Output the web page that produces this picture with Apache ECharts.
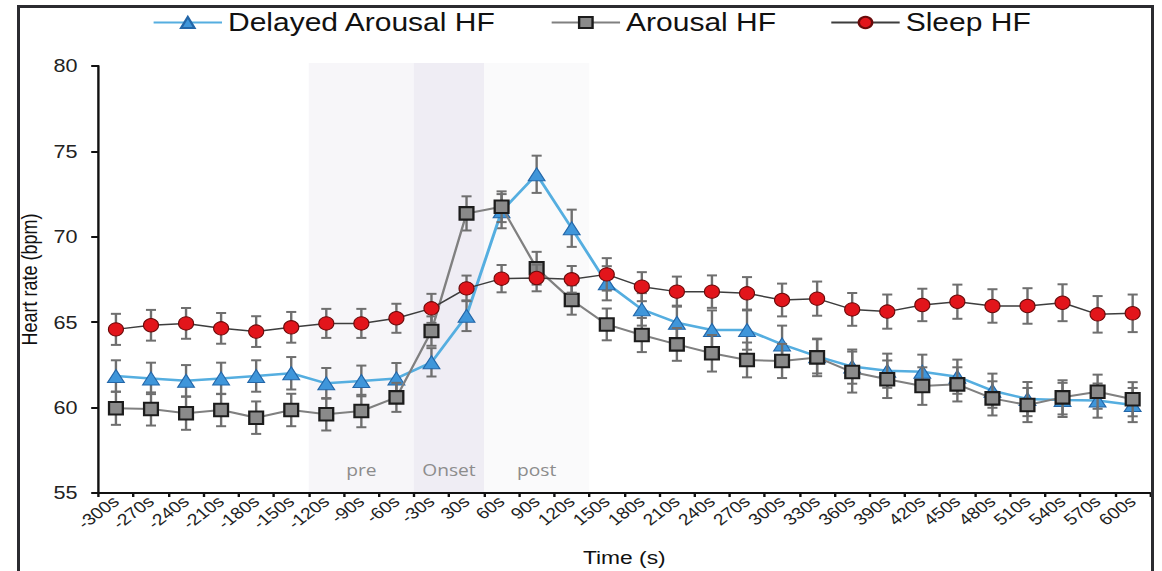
<!DOCTYPE html>
<html>
<head>
<meta charset="utf-8">
<script src="https://cdn.jsdelivr.net/npm/echarts@6/dist/echarts.min.js"></script>
<style>
  html, body { margin: 0; padding: 0; background: #ffffff; width: 1162px; height: 571px; overflow: hidden; }
  #chart { position: absolute; left: 0; top: 0; width: 968px; height: 571px; transform: scaleX(1.2); transform-origin: 0 0; }
  #frame { position: absolute; left: 17px; top: 5px; width: 1131px; height: 600px; border: 3px solid #2b2b30; pointer-events: none; }
</style>
</head>
<body>
<div id="chart"></div>
<div id="frame"></div>
<script>
// Time bins around arousal onset
const timeLabels = ['-300s','-270s','-240s','-210s','-180s','-150s','-120s','-90s','-60s','-30s',
  '30s','60s','90s','120s','150s','180s','210s','240s','270s','300s',
  '330s','360s','390s','420s','450s','480s','510s','540s','570s','600s'];

// Mean heart rate (bpm) per bin
const delayedArousalHF = [61.85, 61.71, 61.57, 61.71, 61.85, 62.01, 61.42, 61.56, 61.71, 62.65,
  65.38, 71.5, 73.66, 70.5, 67.28, 65.75, 64.97, 64.54, 64.54, 63.7,
  63.0, 62.4, 62.16, 62.1, 61.81, 60.99, 60.5, 60.45, 60.41, 60.15];
const arousalHF = [59.96, 59.92, 59.67, 59.86, 59.41, 59.86, 59.61, 59.8, 60.6, 64.48,
  71.37, 71.76, 68.16, 66.3, 64.87, 64.25, 63.7, 63.18, 62.79, 62.73,
  62.94, 62.08, 61.66, 61.26, 61.36, 60.54, 60.15, 60.6, 60.93, 60.49];
const sleepHF = [64.58, 64.82, 64.93, 64.64, 64.45, 64.7, 64.93, 64.93, 65.23, 65.81,
  66.98, 67.55, 67.59, 67.51, 67.8, 67.08, 66.79, 66.79, 66.69, 66.3,
  66.38, 65.75, 65.62, 66.01, 66.2, 65.95, 65.95, 66.14, 65.46, 65.52];

// Standard error (bpm) per bin
const delayedArousalErr = [0.92, 0.92, 0.92, 0.92, 0.92, 0.95, 0.9, 0.9, 0.9, 0.83,
  0.9, 1.0, 1.09, 1.09, 1.0, 0.95, 1.0, 1.15, 1.15, 1.1,
  1.0, 1.0, 1.0, 1.0, 1.0, 1.0, 1.0, 1.0, 1.0, 1.0];
const arousalErr = [0.97, 0.97, 0.97, 0.95, 0.95, 0.95, 0.95, 0.95, 0.85, 0.86,
  1.0, 0.9, 0.96, 0.86, 0.93, 1.0, 0.96, 1.07, 1.02, 1.0,
  1.1, 1.2, 1.1, 1.1, 1.0, 1.0, 1.0, 1.0, 1.0, 1.0];
const sleepErr = [0.91, 0.9, 0.9, 0.9, 0.9, 0.9, 0.85, 0.85, 0.85, 0.85,
  0.75, 0.8, 0.78, 0.78, 0.95, 0.85, 0.88, 0.95, 0.95, 0.96,
  1.0, 0.96, 1.0, 0.95, 1.0, 0.98, 1.04, 1.08, 1.07, 1.1];

// Analysis windows: first and last bin of each window
const phaseNames = ['pre', 'Onset', 'post'];
const phaseFirst = ['-120s', '-30s', '60s'];
const phaseLast = ['-60s', '30s', '120s'];

const yTicks = { min: 55, max: 80, step: 5 };

const phaseFill = { pre: '#f7f6f9', Onset: '#efedf4', post: '#fafafb' };
const FONT = 'Liberation Sans, Arial, sans-serif';

const phaseData = phaseNames.map((n, i) => [
  timeLabels.indexOf(phaseFirst[i]),
  timeLabels.indexOf(phaseLast[i]) + 1,
  i
]);

function errData(vals, errs) {
  return vals.map((v, i) => [i, v - errs[i], v + errs[i]]);
}

function renderPhase(params, api) {
  const from = api.value(0), to = api.value(1);
  const name = phaseNames[api.value(2)];
  const tl = api.coord([from, yTicks.max]);
  const br = api.coord([to, yTicks.min]);
  return {
    type: 'group',
    children: [
      { type: 'rect', shape: { x: tl[0], y: tl[1] - 3, width: br[0] - tl[0], height: br[1] - tl[1] + 3 },
        style: { fill: phaseFill[name] } },
      { type: 'text', style: { text: name, x: (tl[0] + br[0]) / 2, y: br[1] - 23,
          align: 'center', verticalAlign: 'middle', fill: '#8c8c8c',
          fontSize: 16, fontFamily: 'Open Sans, sans-serif' } }
    ]
  };
}

function renderErrorBar(params, api) {
  const x = api.value(0);
  const hi = api.coord([x, api.value(2)]);
  const lo = api.coord([x, api.value(1)]);
  const half = 4.2;
  const st = { stroke: '#6f6f6f', lineWidth: 2 };
  return {
    type: 'group',
    children: [
      { type: 'line', shape: { x1: hi[0], y1: hi[1], x2: lo[0], y2: lo[1] }, style: st },
      { type: 'line', shape: { x1: hi[0] - half, y1: hi[1], x2: hi[0] + half, y2: hi[1] }, style: st },
      { type: 'line', shape: { x1: lo[0] - half, y1: lo[1], x2: lo[0] + half, y2: lo[1] }, style: st }
    ]
  };
}

function errorSeries(vals, errs, z) {
  return {
    type: 'custom', xAxisIndex: 0, yAxisIndex: 0, z: z, silent: true,
    renderItem: renderErrorBar, encode: { x: 0, y: [1, 2] },
    data: errData(vals, errs)
  };
}

const chart = echarts.init(document.getElementById('chart'), null, { renderer: 'svg' });

chart.setOption({
  animation: false,
  backgroundColor: 'transparent',
  grid: { left: 82, right: 9.5, top: 66, bottom: 78, containLabel: false, outerBoundsMode: 'none' },
  legend: {
    data: ['Delayed Arousal HF', 'Arousal HF', 'Sleep HF'],
    left: 122, top: 5,
    itemWidth: 57, itemHeight: 14, itemGap: 45,
    textStyle: { fontSize: 25, color: '#111', fontFamily: FONT }
  },
  xAxis: [
    {
      type: 'category', data: timeLabels, boundaryGap: true,
      axisLine: { lineStyle: { color: '#111', width: 2 } },
      axisTick: { show: true, interval: 0, length: 4, lineStyle: { color: '#111', width: 2 } },
      axisLabel: { interval: 0, rotate: 42, fontSize: 16, color: '#222', margin: 6, fontFamily: FONT },
      splitLine: { show: false },
      name: 'Time (s)', nameLocation: 'middle', nameGap: 55,
      nameTextStyle: { fontSize: 19, color: '#111', fontFamily: FONT }
    },
    { type: 'value', min: 0, max: timeLabels.length, show: false }
  ],
  yAxis: {
    type: 'value', min: yTicks.min, max: yTicks.max, interval: yTicks.step,
    axisLine: { show: true, lineStyle: { color: '#111', width: 2 } },
    axisTick: { show: true, length: 6, lineStyle: { color: '#111', width: 2 } },
    axisLabel: { fontSize: 18, color: '#222', margin: 17.5, fontFamily: FONT },
    splitLine: { show: false },
    name: 'Heart rate (bpm)', nameLocation: 'middle', nameGap: 45,
    nameTextStyle: { fontSize: 18, color: '#111', fontFamily: FONT }
  },
  series: [
    {
      type: 'custom', xAxisIndex: 1, yAxisIndex: 0, z: 0, silent: true,
      renderItem: renderPhase, encode: { x: [0, 1] }, data: phaseData
    },
    errorSeries(delayedArousalHF, delayedArousalErr, 2),
    {
      name: 'Delayed Arousal HF', type: 'line', z: 3, data: delayedArousalHF,
      symbol: 'triangle', symbolSize: [14, 13],
      lineStyle: { color: '#55aee0', width: 2.5 },
      itemStyle: { color: '#3f96da', borderColor: '#2366a8', borderWidth: 1 }
    },
    errorSeries(arousalHF, arousalErr, 4),
    {
      name: 'Arousal HF', type: 'line', z: 5, data: arousalHF,
      symbol: 'rect', symbolSize: [11.5, 12.5],
      lineStyle: { color: '#808080', width: 2 },
      itemStyle: { color: '#8a8a8a', borderColor: '#1c1c1c', borderWidth: 2 }
    },
    errorSeries(sleepHF, sleepErr, 6),
    {
      name: 'Sleep HF', type: 'line', z: 7, data: sleepHF,
      symbol: 'circle', symbolSize: [12.5, 13.3],
      lineStyle: { color: '#3d3d3d', width: 1.5 },
      itemStyle: { color: '#e2151b', borderColor: '#6a0a0a', borderWidth: 1 }
    }
  ]
});
</script>
</body>
</html>
